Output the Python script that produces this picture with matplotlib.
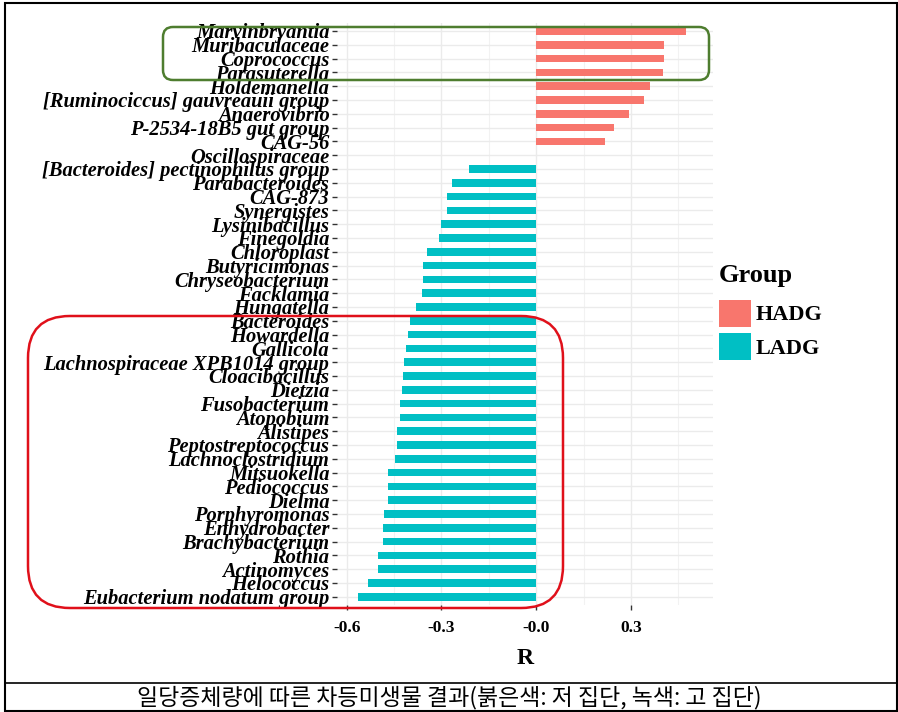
import numpy as np
import matplotlib
matplotlib.use("Agg")
import matplotlib.pyplot as plt
from matplotlib.patches import Patch, FancyBboxPatch, Rectangle
from matplotlib.lines import Line2D

# genera, top to bottom as shown
genera = [
    "Marvinbryantia", "Muribaculaceae", "Coprococcus", "Parasuterella",
    "Holdemanella", "[Ruminociccus] gauvreauii group", "Anaerovibrio",
    "P-2534-18B5 gut group", "CAG-56", "Oscillospiraceae",
    "[Bacteroides] pectinophilus group", "Parabacteroides", "CAG-873",
    "Synergistes", "Lysinibacillus", "Finegoldia", "Chloroplast",
    "Butyricimonas", "Chryseobacterium", "Facklamia", "Hungatella",
    "Bacteroides", "Howardella", "Gallicola", "Lachnospiraceae XPB1014 group",
    "Cloacibacillus", "Dietzia", "Fusobacterium", "Atopobium", "Alistipes",
    "Peptostreptococcus", "Lachnoclostridium", "Mitsuokella", "Pediococcus",
    "Dielma", "Porphyromonas", "Enhydrobacter", "Brachybacterium", "Rothia",
    "Actinomyces", "Helococcus", "Eubacterium nodatum group",
]
r_values = [
    0.474, 0.405, 0.405, 0.403, 0.362, 0.343, 0.294, 0.247, 0.219, 0.0,
    -0.212, -0.266, -0.283, -0.282, -0.301, -0.309, -0.345, -0.358, -0.358,
    -0.361, -0.381, -0.401, -0.405, -0.412, -0.418, -0.422, -0.425, -0.433,
    -0.433, -0.441, -0.441, -0.448, -0.468, -0.468, -0.468, -0.481, -0.485,
    -0.485, -0.501, -0.501, -0.533, -0.564,
]
groups = ["HADG", "LADG"]
group_colors = {"HADG": "#F8766D", "LADG": "#00BFC4"}
x_ticks = [-0.6, -0.3, 0.0, 0.3]
x_tick_labels = ["-0.6", "-0.3", "-0.0", "0.3"]
caption = "일당증체량에 따른 차등미생물 결과(붉은색: 저 집단, 녹색: 고 집단)"

W, H = 898, 712
fig = plt.figure(figsize=(W / 100, H / 100), dpi=100)
ax = fig.add_axes([337 / W, 1 - 605 / H, (713 - 337) / W, (605 - 22.7) / H])

ypos = np.arange(len(genera))
colors = [group_colors["HADG"] if v > 0 else group_colors["LADG"] for v in r_values]
ax.barh(ypos, r_values, height=0.55, color=colors, zorder=3)

ax.set_ylim(len(genera) - 0.4, -0.6)
ax.set_xlim(-0.631, 0.560)
ax.set_yticks(ypos)
ax.set_yticklabels(genera, fontfamily="Liberation Serif", fontweight="bold",
                   fontstyle="italic", fontsize=14.8)
ax.set_xticks(x_ticks)
ax.set_xticklabels(x_tick_labels, fontfamily="Liberation Serif",
                   fontweight="bold", fontsize=12.5)
ax.set_xticks([-0.45, -0.15, 0.15, 0.45], minor=True)
ax.tick_params(axis="x", which="minor", length=0)
ax.tick_params(axis="both", which="major", length=3.5, width=1, color="#333333")
ax.tick_params(axis="x", which="major", pad=7)
ax.tick_params(axis="y", pad=2)
ax.grid(True, which="major", color="#EBEBEB", lw=1, zorder=0)
ax.grid(True, which="minor", axis="x", color="#F2F2F2", lw=0.8, zorder=0)
for s in ax.spines.values():
    s.set_visible(False)
ax.set_xlabel("R", fontfamily="Liberation Serif", fontweight="bold",
              fontsize=17, labelpad=9)

handles = [Patch(facecolor=group_colors[g], edgecolor="none", label=g) for g in groups]
leg = fig.legend(handles=handles, title="Group", loc="upper left",
                 bbox_to_anchor=(719 / W, 1 - 264 / H), frameon=False,
                 prop={"family": "Liberation Serif", "weight": "bold", "size": 16},
                 handlelength=1.45, handleheight=1.5, handletextpad=0.2,
                 labelspacing=0.3, borderpad=0, borderaxespad=0)
leg.get_title().set_fontproperties({"family": "Liberation Serif", "weight": "bold", "size": 19})
leg._legend_box.align = "left"
leg._legend_box.sep = 9

# highlight boxes and frame (pixel positions converted to inches)
def px_box(x0, y0, x1, y1, color, r):
    return FancyBboxPatch((x0 / 100, (H - y1) / 100), (x1 - x0) / 100, (y1 - y0) / 100,
                          boxstyle=f"round,pad=0,rounding_size={r / 100}",
                          transform=fig.dpi_scale_trans, fill=False,
                          edgecolor=color, lw=1.8, zorder=10)

fig.add_artist(px_box(163, 27, 709, 80, "#4E7D2F", 10))
fig.add_artist(px_box(28, 316, 563, 608, "#E0101A", 42))
fig.add_artist(Rectangle((5 / 100, 1 / 100), (W - 6) / 100, (H - 4) / 100,
                         transform=fig.dpi_scale_trans, fill=False,
                         edgecolor="black", lw=1.5))
fig.add_artist(Line2D([5 / 100, (W - 1) / 100], [(H - 683) / 100] * 2,
                      transform=fig.dpi_scale_trans, color="black", lw=1.2))
fig.text(0.5, 1 - 698 / H, caption, ha="center", va="center", fontsize=16.5,
         family=["Noto Sans CJK KR", "DejaVu Sans"])

fig.savefig("out.png", dpi=100)
